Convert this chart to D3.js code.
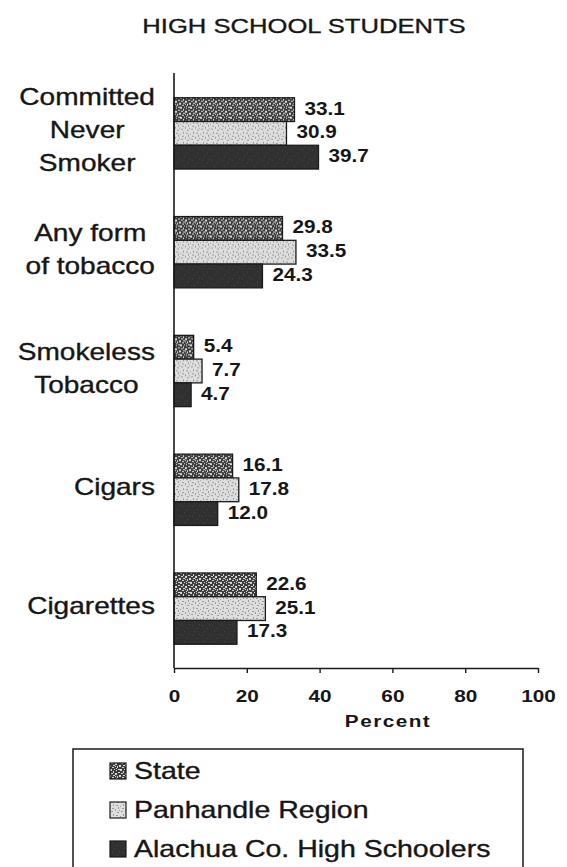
<!DOCTYPE html>
<html>
<head>
<meta charset="utf-8">
<script src="https://cdn.jsdelivr.net/npm/d3@7/dist/d3.min.js"></script>
<style>
  html, body { margin: 0; padding: 0; background: #fff; }
  svg { display: block; }
  text { font-family: "Liberation Sans", Arial, sans-serif; fill: #161616; }
  .heavy { stroke: #161616; stroke-width: 0.35; }
</style>
</head>
<body>
<svg id="chart" width="567" height="867"></svg>
<script>
// Tobacco use among high school students, percent
const categories = [
  ["Committed", "Never", "Smoker"],
  ["Any form", "of tobacco"],
  ["Smokeless", "Tobacco"],
  ["Cigars"],
  ["Cigarettes"]
];
const seriesNames = ["State", "Panhandle Region", "Alachua Co. High Schoolers"];
const stateValues     = [33.1, 29.8, 5.4, 16.1, 22.6];
const panhandleValues = [30.9, 33.5, 7.7, 17.8, 25.1];
const alachuaValues   = [39.7, 24.3, 4.7, 12.0, 17.3];
const xTicks = [0, 20, 40, 60, 80, 100];
const title = "HIGH SCHOOL STUDENTS";
const xTitle = "Percent";

const seriesValues = [stateValues, panhandleValues, alachuaValues];
const catKeys = categories.map(c => c.join(" "));

const svg = d3.select("#chart");
const SX = 1.22; // wide lettering

function place(sel, x, y, sx = SX) {
  return sel.attr("transform", `translate(${x},${y}) scale(${sx},1)`);
}

// ---- fill patterns ----
const defs = svg.append("defs");
function speckle(id, bg, fg, cells, size) {
  const p = defs.append("pattern")
    .attr("id", id).attr("patternUnits", "userSpaceOnUse")
    .attr("width", size).attr("height", size);
  p.append("rect").attr("width", size).attr("height", size).attr("fill", bg);
  cells.forEach(([cx, cy, w, h]) => {
    p.append("rect").attr("x", cx).attr("y", cy).attr("width", w).attr("height", h).attr("fill", fg);
  });
}
speckle("pState", "#3c3c3c", "#d8d8d8",
  [[0,0,2,1],[3,1,1,2],[6,0,1,1],[1,3,2,1],[5,3,2,2],[0,5,1,2],[3,5,2,1],[7,6,1,2],[2,7,2,1],[5,6,1,1],[8,2,2,1],[9,5,1,2],[8,9,2,1],[4,9,1,1],[0,9,2,1],[6,8,1,1]], 10);
speckle("pPan", "#dedede", "#9a9a9a",
  [[1,1,2,1],[5,0,1,1],[7,2,2,1],[3,4,1,2],[0,6,1,1],[6,5,2,1],[2,8,2,1],[8,7,1,2],[5,9,1,1],[9,0,1,1]], 10);
speckle("pAla", "#303030", "#484848",
  [[2,2,1,1],[7,5,1,1],[4,8,1,1],[9,1,1,1]], 10);
const fills = ["url(#pState)", "url(#pPan)", "url(#pAla)"];

// ---- scales ----
const x = d3.scaleLinear().domain([0, 100]).range([174, 538]);
const y = d3.scaleBand().domain(catKeys).range([74, 668]).paddingInner(0.4).paddingOuter(0.2);
const yInner = d3.scaleBand().domain(d3.range(3)).range([0, y.bandwidth()]).paddingInner(0);

// ---- title ----
place(svg.append("text"), 304, 33)
  .attr("class", "heavy")
  .attr("text-anchor", "middle").attr("font-size", 21).text(title);

// ---- bars ----
const groups = svg.append("g").selectAll("g")
  .data(catKeys).join("g")
  .attr("transform", d => `translate(0,${y(d)})`);

groups.each(function(key, ci) {
  const g = d3.select(this);
  seriesValues.forEach((vals, si) => {
    const v = vals[ci];
    g.append("rect")
      .attr("x", x(0))
      .attr("y", yInner(si))
      .attr("width", x(v) - x(0))
      .attr("height", yInner.bandwidth())
      .attr("fill", fills[si])
      .attr("stroke", "#1a1a1a")
      .attr("stroke-width", 1.3);
    place(g.append("text"), x(v) + 10, yInner(si) + yInner.bandwidth() / 2 + 5, 1.15)
      .attr("font-size", 18).attr("font-weight", "bold")
      .text(v.toFixed(1));
  });
});

// ---- category labels ----
categories.forEach((lines, ci) => {
  const cy = y(catKeys[ci]) + y.bandwidth() / 2 - 3;
  const lh = 33;
  const g = svg.append("g");
  const texts = lines.map((line, li) =>
    g.append("text").attr("class", "heavy").attr("font-size", 23).attr("text-anchor", "middle")
      .text(line));
  const maxW = d3.max(texts, t => t.node().getComputedTextLength()) * SX;
  const cx = 155 - maxW / 2;
  texts.forEach((t, li) => {
    const by = cy + (li - (lines.length - 1) / 2) * lh + 8;
    place(t, cx, by);
  });
});

// ---- axes ----
svg.append("line")
  .attr("x1", x(0)).attr("x2", x(0))
  .attr("y1", 73).attr("y2", 668)
  .attr("stroke", "#1a1a1a").attr("stroke-width", 1.6);

const xAxis = svg.append("g").attr("transform", "translate(0,668)")
  .call(d3.axisBottom(x).tickValues(xTicks).tickSize(5).tickSizeOuter(0).tickFormat(d3.format("d")));
xAxis.select(".domain").attr("stroke", "#1a1a1a").attr("stroke-width", 1.6);
xAxis.selectAll(".tick line").attr("stroke", "#1a1a1a").attr("stroke-width", 1.4);
xAxis.selectAll(".tick text").each(function() {
  const t = d3.select(this);
  t.attr("y", null).attr("dy", null);
  place(t, 0, 34);
}).attr("font-size", 17).attr("font-weight", "bold")
  .attr("font-family", "Liberation Sans, Arial, sans-serif").attr("fill", "#161616");

place(svg.append("text"), 388, 727)
  .attr("text-anchor", "middle").attr("font-size", 17).attr("font-weight", "bold")
  .attr("letter-spacing", 1.2).text(xTitle);

// ---- legend ----
const legend = svg.append("g");
legend.append("rect")
  .attr("x", 73).attr("y", 749).attr("width", 450).attr("height", 140)
  .attr("fill", "none").attr("stroke", "#1a1a1a").attr("stroke-width", 1.5);
seriesNames.forEach((name, i) => {
  const base = 779 + i * 39;
  legend.append("rect")
    .attr("x", 110).attr("y", base - 16).attr("width", 16).attr("height", 16)
    .attr("fill", fills[i]).attr("stroke", "#1a1a1a").attr("stroke-width", 1.2);
  place(legend.append("text"), 134, base, 1.24)
    .attr("class", "heavy").attr("font-size", 23).text(name);
});
</script>
</body>
</html>
